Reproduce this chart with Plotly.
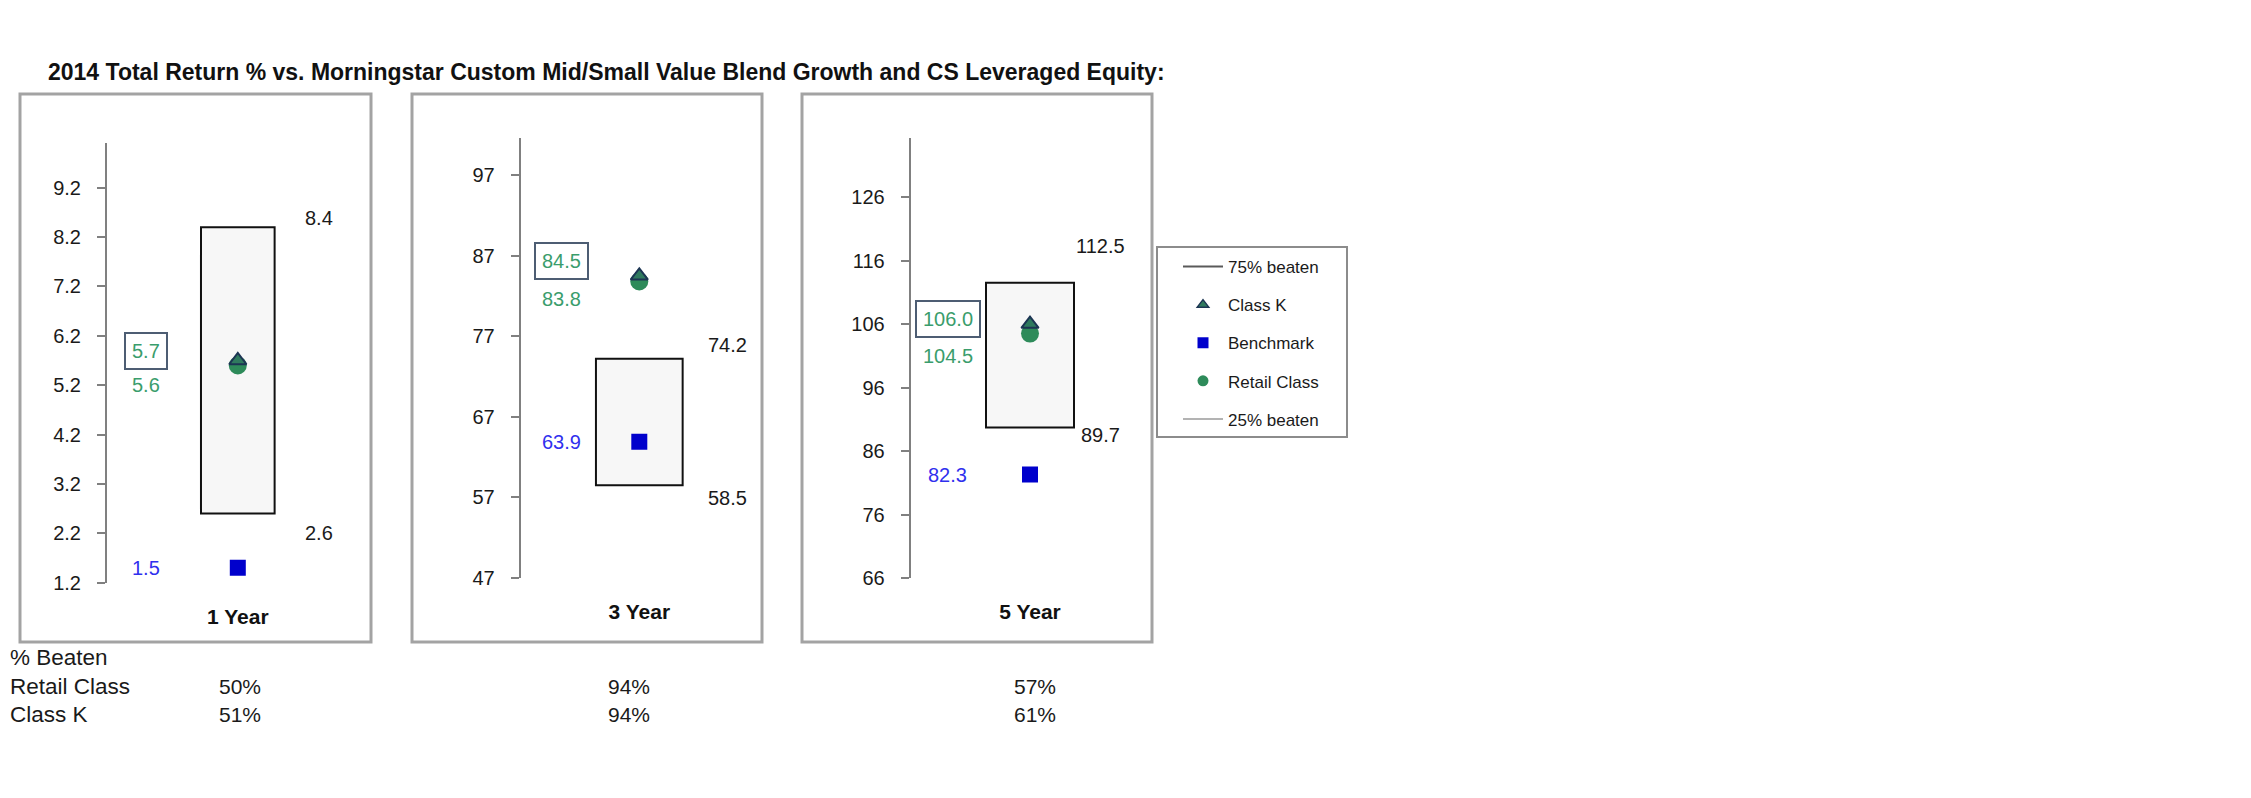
import plotly.graph_objects as go

# ---------------- data ----------------
periods = ["1 Year", "3 Year", "5 Year"]
pct75 = [8.4, 74.2, 112.5]          # 75% beaten (top of box)
pct25 = [2.6, 58.5, 89.7]           # 25% beaten (bottom of box)
class_k = [5.7, 84.5, 106.0]
retail = [5.6, 83.8, 104.5]
benchmark = [1.5, 63.9, 82.3]
tick_vals = [
    [1.2, 2.2, 3.2, 4.2, 5.2, 6.2, 7.2, 8.2, 9.2],
    [47, 57, 67, 77, 87, 97],
    [66, 76, 86, 96, 106, 116, 126],
]
tick_text = [
    ["1.2", "2.2", "3.2", "4.2", "5.2", "6.2", "7.2", "8.2", "9.2"],
    ["47", "57", "67", "77", "87", "97"],
    ["66", "76", "86", "96", "106", "116", "126"],
]
y_ranges = [[1.2, 10.1], [47, 101.6], [66, 135.3]]
retail_beaten = ["50%", "94%", "57%"]
classk_beaten = ["51%", "94%", "61%"]
title = "2014 Total Return % vs. Morningstar Custom Mid/Small Value Blend Growth and CS Leveraged Equity:"

# ---------------- layout helpers (pixels) ----------------
W, H = 2251, 798
Y0, SY = 72.0, 1.014
def fx(px):
    return px / W
def fy(py):
    return 1 - (Y0 + (py - Y0) * SY) / H

FONT = "Liberation Sans, Arial, sans-serif"
GREEN_LBL = "#3a9d6c"
GREEN_PT = "#2e8b5a"
TRI_FILL = "#2f7a5e"
TRI_LINE = "#1c3553"
BLUE = "#0000cc"
BLUE_LBL = "#3030ee"
GRAY_AX = "#808080"

# per panel: axis x pixel, box-centre pixel, y-domain pixels
axis_px = [107, 520.7, 910.7]
center_px = [237.8, 639.3, 1030.0]
ytop_px = [144.3, 139, 139]
ybot_px = [583.6, 579, 579]
bar_w = [0.563, 0.731, 0.738]
frames = [(20, 371), (412, 762), (802, 1152)]
right_lbl_x = [1.62, 1.74, 1.59]
top_lbl_shift = [9, 14, 37]
bot_lbl_shift = [-19, -13, -7]
left_lbl_x = [0.30, 0.34, 0.31]
k_lbl_shift = [9, 15, 5]
r_lbl_shift = [-20, -18, -22]
table_shift = [2, -10, 5]

fig = go.Figure()
annotations = []
shapes = []

for i in range(3):
    sfx = "" if i == 0 else str(i + 1)
    xa, ya = "x" + sfx, "y" + sfx
    xc = 1
    # box 25%-75%
    fig.add_trace(go.Bar(
        x=[xc], y=[pct75[i] - pct25[i]], base=[pct25[i]], width=[bar_w[i]],
        marker=dict(color="#f7f7f7", line=dict(color="#111111", width=2)),
        xaxis=xa, yaxis=ya, showlegend=False, hoverinfo="skip"))
    # benchmark
    fig.add_trace(go.Scatter(
        x=[xc], y=[benchmark[i]], mode="markers",
        marker=dict(symbol="square", size=16, color=BLUE),
        xaxis=xa, yaxis=ya, showlegend=False))
    # retail
    fig.add_trace(go.Scatter(
        x=[xc], y=[retail[i]], mode="markers",
        marker=dict(symbol="circle", size=18, color=GREEN_PT),
        xaxis=xa, yaxis=ya, showlegend=False))
    # class K
    fig.add_trace(go.Scatter(
        x=[xc], y=[class_k[i]], mode="markers",
        marker=dict(symbol="triangle-up", size=15, color=TRI_FILL,
                    line=dict(color=TRI_LINE, width=2)),
        xaxis=xa, yaxis=ya, showlegend=False))

    dom_x = [fx(axis_px[i]), fx(2 * center_px[i] - axis_px[i])]
    dom_y = [fy(ybot_px[i]), fy(ytop_px[i])]
    fig.update_layout(**{
        "xaxis" + sfx: dict(domain=dom_x, range=[0, 2], showgrid=False, zeroline=False,
                            showline=False, ticks="", tickvals=[xc],
                            ticktext=["<b>" + periods[i] + "</b>"],
                            tickfont=dict(size=21, color="#111111", family=FONT),
                            ticklabelstandoff=19, anchor=ya, fixedrange=True),
        "yaxis" + sfx: dict(domain=dom_y, range=y_ranges[i], showgrid=False, zeroline=False,
                            showline=True, linecolor=GRAY_AX, linewidth=2,
                            ticks="outside", ticklen=8, tickwidth=2, tickcolor=GRAY_AX,
                            tickvals=tick_vals[i], ticktext=tick_text[i],
                            tickfont=dict(size=20, color="#1a1a1a", family=FONT),
                            ticklabelstandoff=12, anchor=xa, fixedrange=True),
    })

    # right-side percentile labels
    annotations.append(dict(xref=xa, yref=ya, x=right_lbl_x[i], y=pct75[i],
                            text=f"{pct75[i]:.1f}", showarrow=False, yshift=top_lbl_shift[i],
                            font=dict(size=20, color="#1a1a1a", family=FONT)))
    annotations.append(dict(xref=xa, yref=ya, x=right_lbl_x[i], y=pct25[i],
                            text=f"{pct25[i]:.1f}", showarrow=False, yshift=bot_lbl_shift[i],
                            font=dict(size=20, color="#1a1a1a", family=FONT)))
    # left-side labels
    annotations.append(dict(xref=xa, yref=ya, x=left_lbl_x[i], y=class_k[i],
                            text=f"{class_k[i]:.1f}", showarrow=False, yshift=k_lbl_shift[i],
                            bordercolor="#4d5d73", borderwidth=2, borderpad=6, bgcolor="white",
                            font=dict(size=20, color=GREEN_LBL, family=FONT)))
    annotations.append(dict(xref=xa, yref=ya, x=left_lbl_x[i], y=retail[i],
                            text=f"{retail[i]:.1f}", showarrow=False, yshift=r_lbl_shift[i],
                            font=dict(size=20, color=GREEN_LBL, family=FONT)))
    annotations.append(dict(xref=xa, yref=ya, x=left_lbl_x[i], y=benchmark[i],
                            text=f"{benchmark[i]:.1f}", showarrow=False,
                            font=dict(size=20, color=BLUE_LBL, family=FONT)))
    # table values
    annotations.append(dict(xref=xa, yref="paper", x=xc, y=fy(687), xshift=table_shift[i],
                            text=retail_beaten[i], showarrow=False, yanchor="middle",
                            font=dict(size=21, color="#1a1a1a", family=FONT)))
    annotations.append(dict(xref=xa, yref="paper", x=xc, y=fy(715), xshift=table_shift[i],
                            text=classk_beaten[i], showarrow=False, yanchor="middle",
                            font=dict(size=21, color="#1a1a1a", family=FONT)))
    # panel frame
    shapes.append(dict(type="rect", xref="paper", yref="paper",
                       x0=fx(frames[i][0]), x1=fx(frames[i][1]), y0=fy(643), y1=fy(95),
                       line=dict(color="#a3a3a3", width=3), layer="below"))

# table row labels
for txt, py in [("% Beaten", 658), ("Retail Class", 687), ("Class K", 715)]:
    annotations.append(dict(xref="paper", yref="paper", x=fx(8), y=fy(py), xanchor="left",
                            yanchor="middle", text=txt, showarrow=False,
                            font=dict(size=22.5, color="#1a1a1a", family=FONT)))

# title
annotations.append(dict(xref="paper", yref="paper", x=fx(46), y=fy(72.5), xanchor="left",
                        yanchor="middle", text="<b>" + title + "</b>", showarrow=False,
                        font=dict(size=23, color="#111111", family=FONT)))

# legend frame
shapes.append(dict(type="rect", xref="paper", yref="paper", x0=fx(1157), x1=fx(1347),
                   y0=fy(438), y1=fy(248), line=dict(color="#8c8c8c", width=2)))

# legend entries
legend_items = [
    dict(name="75% beaten", mode="lines", line=dict(color="#5a5a5a", width=2)),
    dict(name="Class K", mode="markers",
         marker=dict(symbol="triangle-up", size=10, color=TRI_FILL, line=dict(color=TRI_LINE, width=1.5))),
    dict(name="Benchmark", mode="markers", marker=dict(symbol="square", size=11, color=BLUE)),
    dict(name="Retail Class", mode="markers", marker=dict(symbol="circle", size=11, color=GREEN_PT)),
    dict(name="25% beaten", mode="lines", line=dict(color="#b3b3b3", width=2)),
]
for k, it in enumerate(legend_items):
    fig.add_trace(go.Scatter(x=[None], y=[None], legendgroup=f"g{k}", showlegend=True, **it))

fig.update_layout(
    width=W, height=H, margin=dict(l=0, r=0, t=0, b=0),
    paper_bgcolor="white", plot_bgcolor="rgba(0,0,0,0)",
    font=dict(family=FONT, color="#1a1a1a"),
    annotations=annotations, shapes=shapes,
    barmode="overlay",
    legend=dict(x=fx(1178), y=fy(250), xanchor="left", yanchor="top",
                bgcolor="rgba(0,0,0,0)", borderwidth=0, tracegroupgap=13, itemwidth=40,
                traceorder="grouped", font=dict(size=17, color="#1a1a1a", family=FONT)),
)

fig.write_html("out.html")
